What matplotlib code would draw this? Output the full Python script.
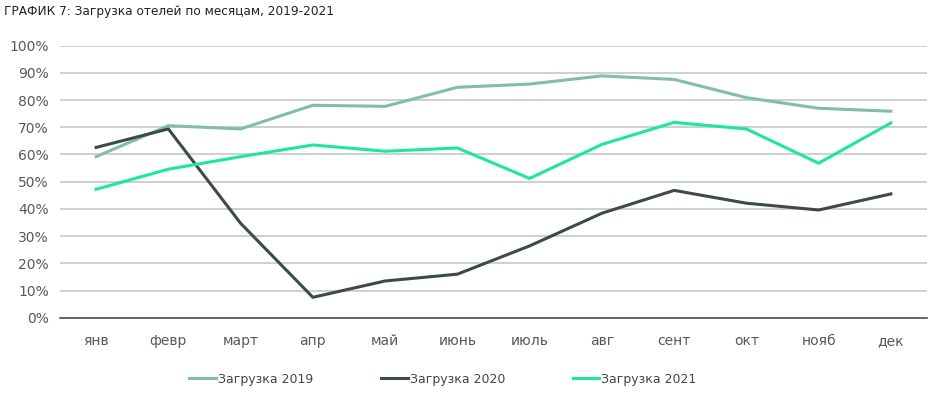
import matplotlib.pyplot as plt
from matplotlib.ticker import PercentFormatter

months = ['янв', 'февр', 'март', 'апр', 'май', 'июнь', 'июль', 'авг', 'сент', 'окт', 'нояб', 'дек']
load_2019 = [59.2, 70.6, 69.4, 78.1, 77.7, 84.7, 85.9, 88.9, 87.6, 80.9, 77.0, 75.9]
load_2020 = [62.6, 69.4, 34.7, 7.5, 13.5, 16.0, 26.4, 38.4, 46.8, 42.1, 39.6, 45.5]
load_2021 = [47.2, 54.6, 59.2, 63.5, 61.2, 62.4, 51.2, 63.7, 71.8, 69.4, 56.8, 71.6]

plt.rcParams['font.family'] = ['DejaVu Sans']

W, H = 934, 393
fig = plt.figure(figsize=(W / 100, H / 100), dpi=100)
ax = fig.add_axes([60 / W, 1 - 317.7 / H, 867 / W, (317.7 - 45.7) / H])

x = range(len(months))
l1, = ax.plot(x, load_2019, color='#82BDAC', lw=2.2, label='Загрузка 2019')
l2, = ax.plot(x, load_2020, color='#3D4A4B', lw=2.2, label='Загрузка 2020')
l3, = ax.plot(x, load_2021, color='#1DE995', lw=2.2, label='Загрузка 2021')

ax.set_xlim(-0.5, len(months) - 0.5)
ax.set_ylim(0, 100)
ax.set_yticks(range(0, 101, 10))
ax.yaxis.set_major_formatter(PercentFormatter(decimals=0))
ax.set_xticks(list(x))
ax.set_xticklabels(months)
ax.grid(axis='y', color='#C8CDD0', lw=1.3)
ax.set_axisbelow(True)
for s in ['top', 'right', 'left']:
    ax.spines[s].set_visible(False)
ax.spines['bottom'].set_color('#44505A')
ax.spines['bottom'].set_linewidth(1.2)
ax.tick_params(length=0, labelsize=10, colors='#595959', pad=8)
ax.tick_params(axis='x', pad=12)

fig.text(4 / W, 1 - 12 / H, 'ГРАФИК 7: Загрузка отелей по месяцам, 2019-2021',
         fontsize=8.7, va='center', ha='left', color='#222222')

leg = fig.legend(handles=[l1, l2, l3], loc='center', bbox_to_anchor=(443 / W, 1 - 379 / H),
                 ncol=3, frameon=False, fontsize=9, handlelength=2.15, handletextpad=0.15,
                 columnspacing=5.4)
for t in leg.get_texts():
    t.set_color('#444444')

fig.savefig('out.png', dpi=100)
